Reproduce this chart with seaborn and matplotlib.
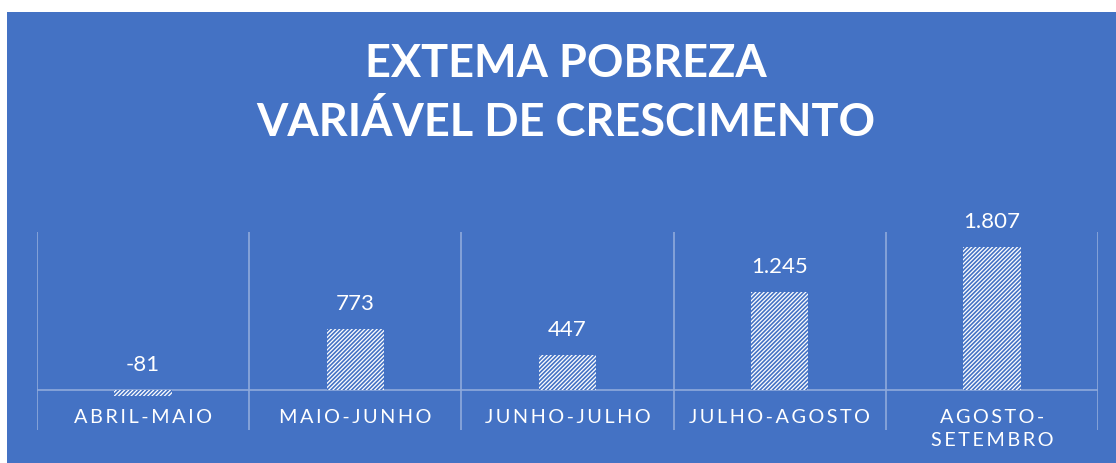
import matplotlib
matplotlib.use("Agg")
import matplotlib.pyplot as plt
from matplotlib.patches import Rectangle
import seaborn as sns
import pandas as pd

# data
periods = ["ABRIL-MAIO", "MAIO-JUNHO", "JUNHO-JULHO", "JULHO-AGOSTO", "AGOSTO-\nSETEMBRO"]
growth = [-81, 773, 447, 1245, 1807]
value_labels = ["-81", "773", "447", "1.245", "1.807"]
title_lines = ["EXTEMA POBREZA", "VARIÁVEL DE CRESCIMENTO"]

BLUE = "#4472C4"
GRID = "#8FAADC"

sns.set_theme(style="white")
plt.rcParams["font.family"] = ["Lato", "DejaVu Sans"]
plt.rcParams["hatch.linewidth"] = 1.2

df = pd.DataFrame({"periodo": periods, "valor": growth})

fig = plt.figure(figsize=(11.16, 4.63), dpi=100, facecolor="white")
# blue chart area (white strip on top and left as in the screenshot)
fig.patches.append(Rectangle((7 / 1116, 0), 1, 451 / 463, transform=fig.transFigure,
                             facecolor=BLUE, edgecolor="none", zorder=-5))

ax = fig.add_axes([37 / 1116, 33 / 463, 1061 / 1116, 198 / 463])
ax.set_facecolor("none")

sns.barplot(data=df, x="periodo", y="valor", color="white", width=0.27,
            saturation=1, ax=ax, zorder=3)
for bar in ax.patches:
    bar.set_hatch("////////")
    bar.set_edgecolor(BLUE)
    bar.set_linewidth(0)

ax.set_xlim(-0.5, len(periods) - 0.5)
ax.set_ylim(-506, 2000)

# category separators and zero line
for x in range(len(periods) + 1):
    ax.axvline(x - 0.5, color=GRID, lw=1.2, zorder=1)
ax.axhline(0, color=GRID, lw=1.2, zorder=2)

# data labels
for i, (v, lab) in enumerate(zip(growth, value_labels)):
    ax.annotate(lab, (i, max(v, 0)), xytext=(0, 18), textcoords="offset points",
                ha="center", va="center", color="white", fontsize=16)

# spaced-out category labels
spaced = ["\u2009".join(list(p)).replace("\u2009\n\u2009", "\n") for p in periods]
ax.set_xticks(range(len(periods)))
ax.set_xticklabels(spaced, color="white", fontsize=14.3, linespacing=1.4)
ax.tick_params(axis="x", length=0, pad=-15)
for t in ax.get_xticklabels():
    t.set_va("top")
ax.set_yticks([])
ax.set_xlabel("")
ax.set_ylabel("")
sns.despine(ax=ax, left=True, bottom=True)

fig.text(566 / 1116, 1 - 93.5 / 463, "\n".join(title_lines), ha="center", va="center",
         color="white", fontsize=32.5, fontweight="bold", linespacing=1.45)

fig.savefig("out.png", dpi=100, facecolor="white")
